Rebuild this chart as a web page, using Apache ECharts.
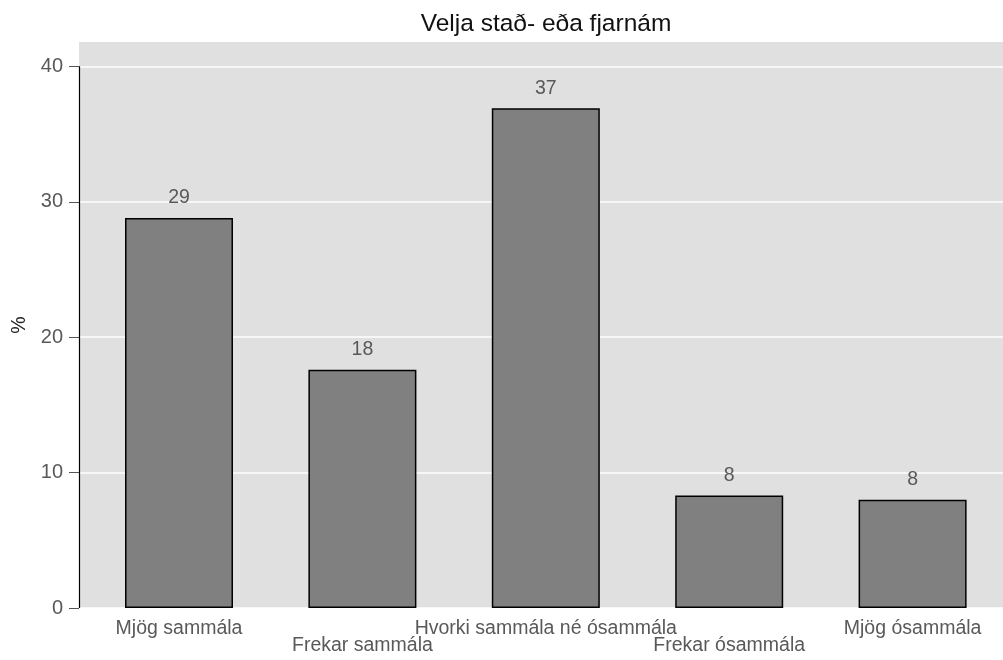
<!DOCTYPE html>
<html>
<head>
<meta charset="utf-8">
<script src="https://cdn.jsdelivr.net/npm/echarts@6/dist/echarts.min.js"></script>
<style>
html,body{margin:0;padding:0;background:#fff;}
#chart{width:1003px;height:660px;}
</style>
</head>
<body>
<div id="chart"></div>
<script>
var titleText = 'Velja stað- eða fjarnám';
var categories = ['Mjög sammála', 'Frekar sammála', 'Hvorki sammála né ósammála', 'Frekar ósammála', 'Mjög ósammála'];
var values = [28.8, 17.6, 36.9, 8.3, 8.0];
var yTicks = [0, 10, 20, 30, 40];
var yName = '%';

var X_MIN = 0.4547, X_MAX = 5.4929;
var Y_MAX = 41.8;
var FONT = '"Liberation Sans", Arial, Helvetica, sans-serif';

var barData = values.map(function (v, i) { return [i + 1, v]; });
var catPositions = categories.map(function (c, i) { return i + 1; });

var chart = echarts.init(document.getElementById('chart'));
chart.setOption({
  animation: false,
  backgroundColor: '#ffffff',
  textStyle: { fontFamily: FONT },
  title: {
    text: titleText,
    left: 541,
    top: 7,
    textAlign: 'center',
    textStyle: { fontFamily: FONT, fontSize: 24.5, fontWeight: 'normal', color: '#111111' }
  },
  grid: {
    left: 79, right: 0, top: 42, bottom: 52,
    show: true, backgroundColor: '#e0e0e0', borderWidth: 0
  },
  xAxis: {
    type: 'value',
    min: X_MIN, max: X_MAX,
    axisLine: { show: false },
    axisTick: { show: false },
    splitLine: { show: false },
    axisLabel: {
      customValues: catPositions,
      margin: 12,
      fontFamily: FONT,
      fontSize: 19.5,
      color: '#595959',
      lineHeight: 17,
      formatter: function (v) {
        var i = Math.round(v) - 1;
        var name = categories[i] || '';
        return (i % 2 === 1) ? '\n' + name : name;
      }
    }
  },
  yAxis: {
    type: 'value',
    min: 0, max: Y_MAX,
    name: yName,
    nameLocation: 'middle',
    nameRotate: 90,
    nameGap: 46,
    nameTextStyle: { fontFamily: FONT, fontSize: 19.5, color: '#222222' },
    axisLine: { show: false },
    axisTick: { show: true, length: 10, customValues: yTicks, lineStyle: { color: '#555555', width: 1 } },
    axisLabel: { customValues: yTicks, margin: 16, fontFamily: FONT, fontSize: 20, color: '#595959' },
    splitLine: { show: true, lineStyle: { color: '#ffffff', width: 1.5 } }
  },
  series: [{
    type: 'bar',
    data: barData,
    barWidth: 108,
    itemStyle: { color: '#808080', borderColor: '#000000', borderWidth: 1.5 },
    label: {
      show: true,
      position: 'top',
      distance: 10,
      fontFamily: FONT,
      fontSize: 19.5,
      color: '#595959',
      formatter: function (p) { return String(Math.round(p.value[1])); }
    },
    markLine: {
      silent: true,
      symbol: 'none',
      label: { show: false },
      lineStyle: { color: '#000000', width: 1.2, type: 'solid' },
      data: [[{ coord: [X_MIN, yTicks[0]] }, { coord: [X_MIN, yTicks[yTicks.length - 1]] }]]
    }
  }]
});
</script>
</body>
</html>
